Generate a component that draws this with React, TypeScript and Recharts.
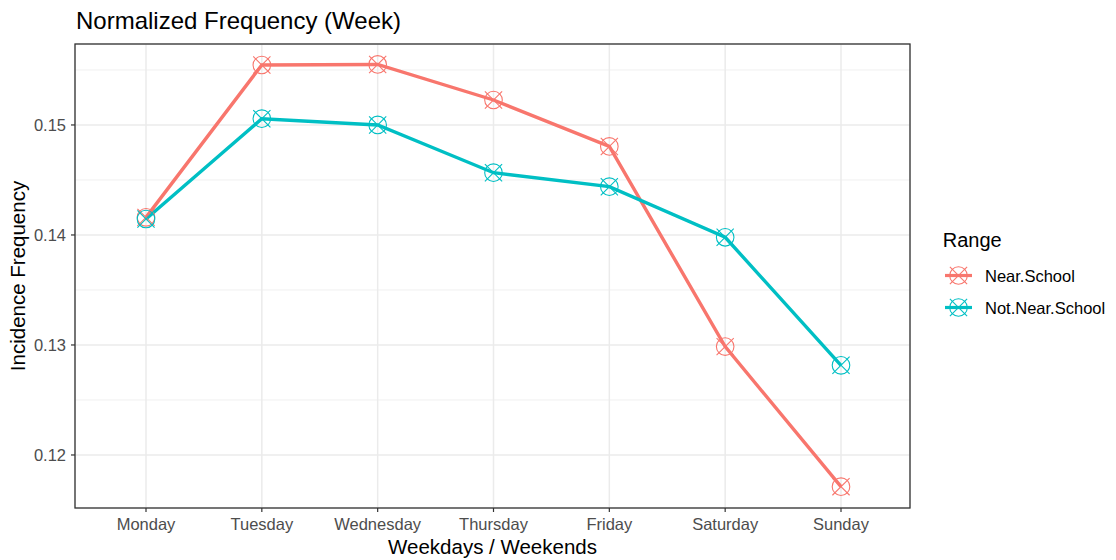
import React from "react";
import {
  LineChart,
  Line,
  XAxis,
  YAxis,
  CartesianGrid,
  ReferenceLine,
} from "recharts";

const days = ["Monday", "Tuesday", "Wednesday", "Thursday", "Friday", "Saturday", "Sunday"];
const nearSchool = [0.1416, 0.15545, 0.1555, 0.15227, 0.14805, 0.12985, 0.11712];
const notNearSchool = [0.14145, 0.15057, 0.15, 0.14566, 0.14439, 0.13979, 0.12815];
const yTicks = [0.12, 0.13, 0.14, 0.15];
const yMinor = [0.125, 0.135, 0.145, 0.155];
const seriesNames = ["Near.School", "Not.Near.School"];
const seriesColors = ["#F8766D", "#00BFC4"];

const Y_MIN = 0.11518;
const Y_MAX = 0.15736;

const data = days.map((d, i) => ({
  day: d,
  near: nearSchool[i],
  notNear: notNearSchool[i],
}));

const FONT = "'Liberation Sans', Arial, Helvetica, sans-serif";

function Marker({ cx, cy, color }: { cx: number; cy: number; color: string }) {
  const r = 8.8;
  const a = 8.6;
  return (
    <g>
      <circle cx={cx} cy={cy} r={r} fill="none" stroke={color} strokeWidth={1.1} />
      <line x1={cx - a} y1={cy - a} x2={cx + a} y2={cy + a} stroke={color} strokeWidth={1.1} />
      <line x1={cx - a} y1={cy + a} x2={cx + a} y2={cy - a} stroke={color} strokeWidth={1.1} />
    </g>
  );
}

const makeDot = (color: string) => (props: any) => {
  const { cx, cy, index } = props;
  return <Marker key={`m-${color}-${index}`} cx={cx} cy={cy} color={color} />;
};

export default function App() {
  return (
    <div style={{ position: "absolute", left: 0, top: 0, width: 1116, height: 560, background: "#fff" }}>
      <LineChart
        width={1116}
        height={560}
        data={data}
        margin={{ top: 44, right: 206, bottom: 22, left: 15 }}
        style={{ fontFamily: FONT }}
      >
        <CartesianGrid stroke="#ebebeb" strokeWidth={1.5} />
        {yMinor.map((v) => (
          <ReferenceLine key={v} y={v} stroke="#ebebeb" strokeWidth={0.75} />
        ))}
        <XAxis
          dataKey="day"
          type="category"
          padding={{ left: 71, right: 69 }}
          height={30}
          tickSize={4}
          tickMargin={6}
          tickLine={{ stroke: "#333333", strokeWidth: 1.2 }}
          axisLine={false}
          tick={{ fill: "#4d4d4d", fontSize: 16.5 }}
          interval={0}
        />
        <YAxis
          type="number"
          domain={[Y_MIN, Y_MAX]}
          allowDataOverflow
          ticks={yTicks}
          width={60}
          tickSize={4}
          tickMargin={5}
          tickLine={{ stroke: "#333333", strokeWidth: 1.2 }}
          axisLine={false}
          tick={{ fill: "#4d4d4d", fontSize: 16.5 }}
          tickFormatter={(v: number) => String(v)}
        />
        <Line
          dataKey="near"
          name={seriesNames[0]}
          stroke={seriesColors[0]}
          strokeWidth={3.4}
          dot={makeDot(seriesColors[0])}
          activeDot={false}
          isAnimationActive={false}
        />
        <Line
          dataKey="notNear"
          name={seriesNames[1]}
          stroke={seriesColors[1]}
          strokeWidth={3.4}
          dot={makeDot(seriesColors[1])}
          activeDot={false}
          isAnimationActive={false}
        />
      </LineChart>
      <svg
        width={1116}
        height={560}
        style={{ position: "absolute", left: 0, top: 0, pointerEvents: "none", fontFamily: FONT }}
      >
        <rect x={75} y={44} width={835} height={464} fill="none" stroke="#333333" strokeWidth={1.3} />
        <text x={76} y={28.5} fontSize={24} fill="#000">
          Normalized Frequency (Week)
        </text>
        <text x={492.5} y={554} fontSize={20.5} fill="#000" textAnchor="middle">
          Weekdays / Weekends
        </text>
        <text
          x={0}
          y={0}
          fontSize={20.5}
          fill="#000"
          textAnchor="middle"
          transform="translate(25,276) rotate(-90)"
        >
          Incidence Frequency
        </text>
        <g transform="translate(930,220)">
          <text x={12.7} y={26.5} fontSize={20} fill="#000">
            Range
          </text>
          {seriesNames.map((name, i) => {
            const y = 55.5 + i * 32;
            return (
              <g key={name}>
                <line x1={15} y1={y} x2={42} y2={y} stroke={seriesColors[i]} strokeWidth={3.2} />
                <Marker cx={28.5} cy={y} color={seriesColors[i]} />
                <text x={55} y={y + 6} fontSize={16.5} fill="#000">
                  {name}
                </text>
              </g>
            );
          })}
        </g>
      </svg>
    </div>
  );
}
